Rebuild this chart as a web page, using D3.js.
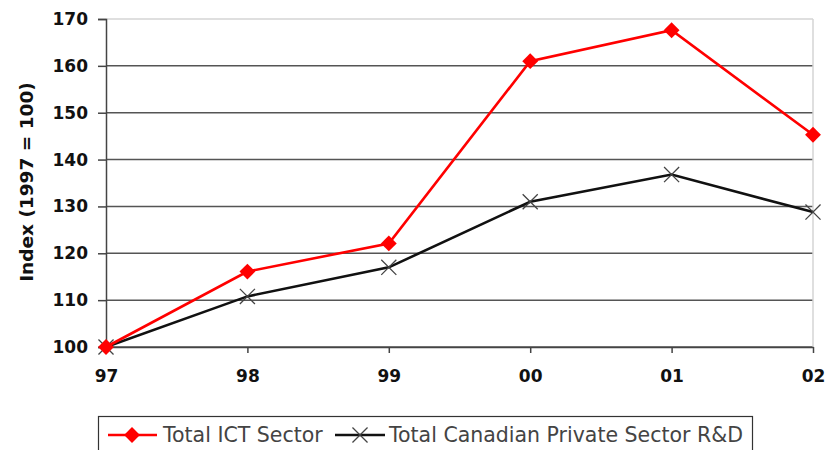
<!DOCTYPE html>
<html>
<head>
<meta charset="utf-8">
<script src="https://cdn.jsdelivr.net/npm/d3@7"></script>
<style>
  body { margin: 0; background: #fff; }
  svg { display: block; font-family: "DejaVu Sans", Arial, sans-serif; }
</style>
</head>
<body>
<script>
// data
var years = ["97", "98", "99", "00", "01", "02"];
var ictValues = [100, 116.1, 122.1, 161, 167.6, 145.3];
var rdValues = [100, 110.8, 117, 131, 136.8, 128.8];
var yTicks = [100, 110, 120, 130, 140, 150, 160, 170];
var seriesNames = ["Total ICT Sector", "Total Canadian Private Sector R&D"];

var w = 825, h = 450;
var plotLeft = 106, plotRight = 813, plotTop = 19, plotBottom = 347;

var svg = d3.select("body").append("svg")
  .attr("width", w)
  .attr("height", h);

var x = d3.scalePoint().domain(years).range([plotLeft, plotRight]);
var y = d3.scaleLinear().domain([100, 170]).range([plotBottom, plotTop]);

// gridlines
svg.append("g")
  .selectAll("line")
  .data(yTicks)
  .enter().append("line")
  .attr("x1", plotLeft).attr("x2", plotRight)
  .attr("y1", function(d) { return y(d); })
  .attr("y2", function(d) { return y(d); })
  .attr("stroke", function(d) { return d === 170 ? "#d4d4d4" : "#555"; })
  .attr("stroke-width", 1.5);

// right border
svg.append("line")
  .attr("x1", plotRight).attr("x2", plotRight)
  .attr("y1", plotTop).attr("y2", plotBottom)
  .attr("stroke", "#d4d4d4").attr("stroke-width", 1.5);

// y axis
var yAxis = d3.axisLeft(y).tickValues(yTicks).tickSize(8).tickPadding(10);
var gy = svg.append("g")
  .attr("transform", "translate(" + plotLeft + ",0)")
  .call(yAxis);
gy.select(".domain").attr("stroke", "#444").attr("stroke-width", 1.5);
gy.selectAll(".tick line").attr("stroke", "#444").attr("stroke-width", 1.5);
gy.selectAll(".tick text")
  .attr("font-size", "17px").attr("font-weight", "bold")
  .attr("fill", "#111").attr("font-family", "'DejaVu Sans', Arial, sans-serif");

// x axis
var xAxis = d3.axisBottom(x).tickSize(6).tickSizeOuter(0).tickPadding(17);
var gx = svg.append("g")
  .attr("transform", "translate(0," + plotBottom + ")")
  .call(xAxis);
gx.select(".domain").attr("stroke", "#444").attr("stroke-width", 1.5);
gx.selectAll(".tick line").attr("stroke", "#444").attr("stroke-width", 1.5);
gx.selectAll(".tick text")
  .attr("font-size", "17px").attr("font-weight", "bold")
  .attr("fill", "#111").attr("font-family", "'DejaVu Sans', Arial, sans-serif");

// y title
svg.append("text")
  .attr("transform", "translate(33,182) rotate(-90)")
  .attr("text-anchor", "middle")
  .attr("font-size", "18.5px")
  .attr("font-weight", "bold")
  .attr("fill", "#111")
  .text("Index (1997 = 100)");

var line = d3.line()
  .x(function(d, i) { return x(years[i]); })
  .y(function(d) { return y(d); });

var diamond = d3.symbol().type(d3.symbolDiamond2).size(160);
var cross = d3.symbol().type(d3.symbolTimes).size(150);

// R&D series
svg.append("path")
  .datum(rdValues)
  .attr("d", line)
  .attr("fill", "none")
  .attr("stroke", "#111")
  .attr("stroke-width", 2.6);

svg.selectAll(".rd")
  .data(rdValues)
  .enter().append("path")
  .attr("class", "rd")
  .attr("d", cross)
  .attr("transform", function(d, i) { return "translate(" + x(years[i]) + "," + y(d) + ")"; })
  .attr("fill", "none")
  .attr("stroke", "#444")
  .attr("stroke-width", 1.3);

// ICT series
svg.append("path")
  .datum(ictValues)
  .attr("d", line)
  .attr("fill", "none")
  .attr("stroke", "#ff0000")
  .attr("stroke-width", 2.6);

svg.selectAll(".ict")
  .data(ictValues)
  .enter().append("path")
  .attr("class", "ict")
  .attr("d", diamond)
  .attr("transform", function(d, i) { return "translate(" + x(years[i]) + "," + y(d) + ")"; })
  .attr("fill", "#ff0000");

// legend
var leg = svg.append("g");
leg.append("rect")
  .attr("x", 98.5).attr("y", 416.5)
  .attr("width", 654).attr("height", 40)
  .attr("fill", "#fff")
  .attr("stroke", "#333").attr("stroke-width", 1.2);

var legY = 435;
leg.append("line")
  .attr("x1", 108).attr("x2", 157).attr("y1", legY).attr("y2", legY)
  .attr("stroke", "#ff0000").attr("stroke-width", 2.6);
leg.append("path")
  .attr("d", diamond)
  .attr("transform", "translate(132," + legY + ")")
  .attr("fill", "#ff0000");
leg.append("text")
  .attr("x", 163).attr("y", legY + 7)
  .attr("font-size", "20.5px").attr("fill", "#444")
  .text(seriesNames[0]);

leg.append("line")
  .attr("x1", 335).attr("x2", 385).attr("y1", legY).attr("y2", legY)
  .attr("stroke", "#111").attr("stroke-width", 2.6);
leg.append("path")
  .attr("d", cross)
  .attr("transform", "translate(360," + legY + ")")
  .attr("fill", "none").attr("stroke", "#444").attr("stroke-width", 1.3);
leg.append("text")
  .attr("x", 389).attr("y", legY + 7)
  .attr("font-size", "20.5px").attr("fill", "#444")
  .text(seriesNames[1]);
</script>
</body>
</html>
